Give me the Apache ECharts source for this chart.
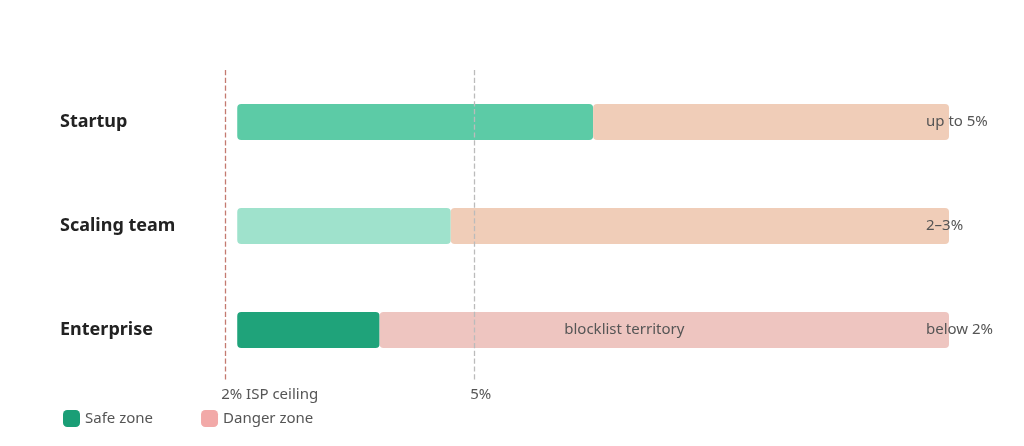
<!DOCTYPE html>
<html><head><meta charset="utf-8">
<script src="https://cdn.jsdelivr.net/npm/echarts@6/dist/echarts.min.js"></script>
<style>html,body{margin:0;padding:0;background:#fff}#c{width:1024px;height:446px}</style>
</head><body><div id="c"></div>
<script>
const categories = ['Startup', 'Scaling team', 'Enterprise'];
const safeValues = [50, 30, 20];
const dangerValues = [50, 70, 80];
const rangeLabels = ['up to 5%', '2–3%', 'below 2%'];
const safeColors = ['#5ccba6', '#9fe2cc', '#1fa37a'];
const dangerColors = ['#f0cdb8', '#f0cdb8', '#eec5c0'];
const markers = [{x: -1.7, text: '2% ISP ceiling', color: '#c47a70'}, {x: 33.3, text: '5%', color: '#bbbbbb'}];

const font = 'Noto Sans';
const chart = echarts.init(document.getElementById('c'));
chart.setOption({
  textStyle: {fontFamily: font},
  animation: false,
  grid: {left: 223, right: 75, top: 70, bottom: 64},
  xAxis: {type: 'value', min: -2, max: 100, show: false},
  yAxis: {type: 'category', data: categories, inverse: true,
    axisLine: {show: false}, axisTick: {show: false},
    axisLabel: {align: 'left', margin: 163, fontSize: 18, fontWeight: 'bold', color: '#222'}},
  legend: {left: 58, bottom: 14, itemWidth: 17, itemHeight: 17, itemGap: 48, icon: 'roundRect',
    textStyle: {fontSize: 15, color: '#555'}, data: ['Safe zone', 'Danger zone']},
  series: [
    {name: 'Safe zone', type: 'bar', stack: 'a', barWidth: 36, color: '#1a9e76',
     itemStyle: {borderRadius: 4},
     data: safeValues.map((v, i) => ({value: v, itemStyle: {color: safeColors[i]}})),
     markLine: {silent: true, symbol: 'none',
       data: markers.map(m => ({xAxis: m.x, lineStyle: {color: m.color, type: 'dashed', width: 1.3},
         label: {formatter: m.text, position: 'end', align: 'left', offset: [-4, 0], fontSize: 15, color: '#555'}}))}},
    {name: 'Danger zone', type: 'bar', stack: 'a', barWidth: 36, color: '#f2a9a8',
     itemStyle: {borderRadius: 4},
     data: dangerValues.map((v, i) => ({value: v, itemStyle: {color: dangerColors[i]},
       label: i === 2 ? {show: true, position: 'inside', offset: [-40, 0], formatter: 'blocklist territory', fontSize: 15, color: '#555'} : {show: false}}))},
    {name: 'ends', type: 'bar', barWidth: 36, barGap: '-100%', silent: true,
     itemStyle: {color: 'rgba(0,0,0,0)'},
     data: dangerValues.map((v, i) => ({value: safeValues[i] + v,
       label: {show: true, position: 'right', offset: [-28, 0], formatter: rangeLabels[i], fontSize: 15, color: '#555'}}))}
  ]
});
</script></body></html>
